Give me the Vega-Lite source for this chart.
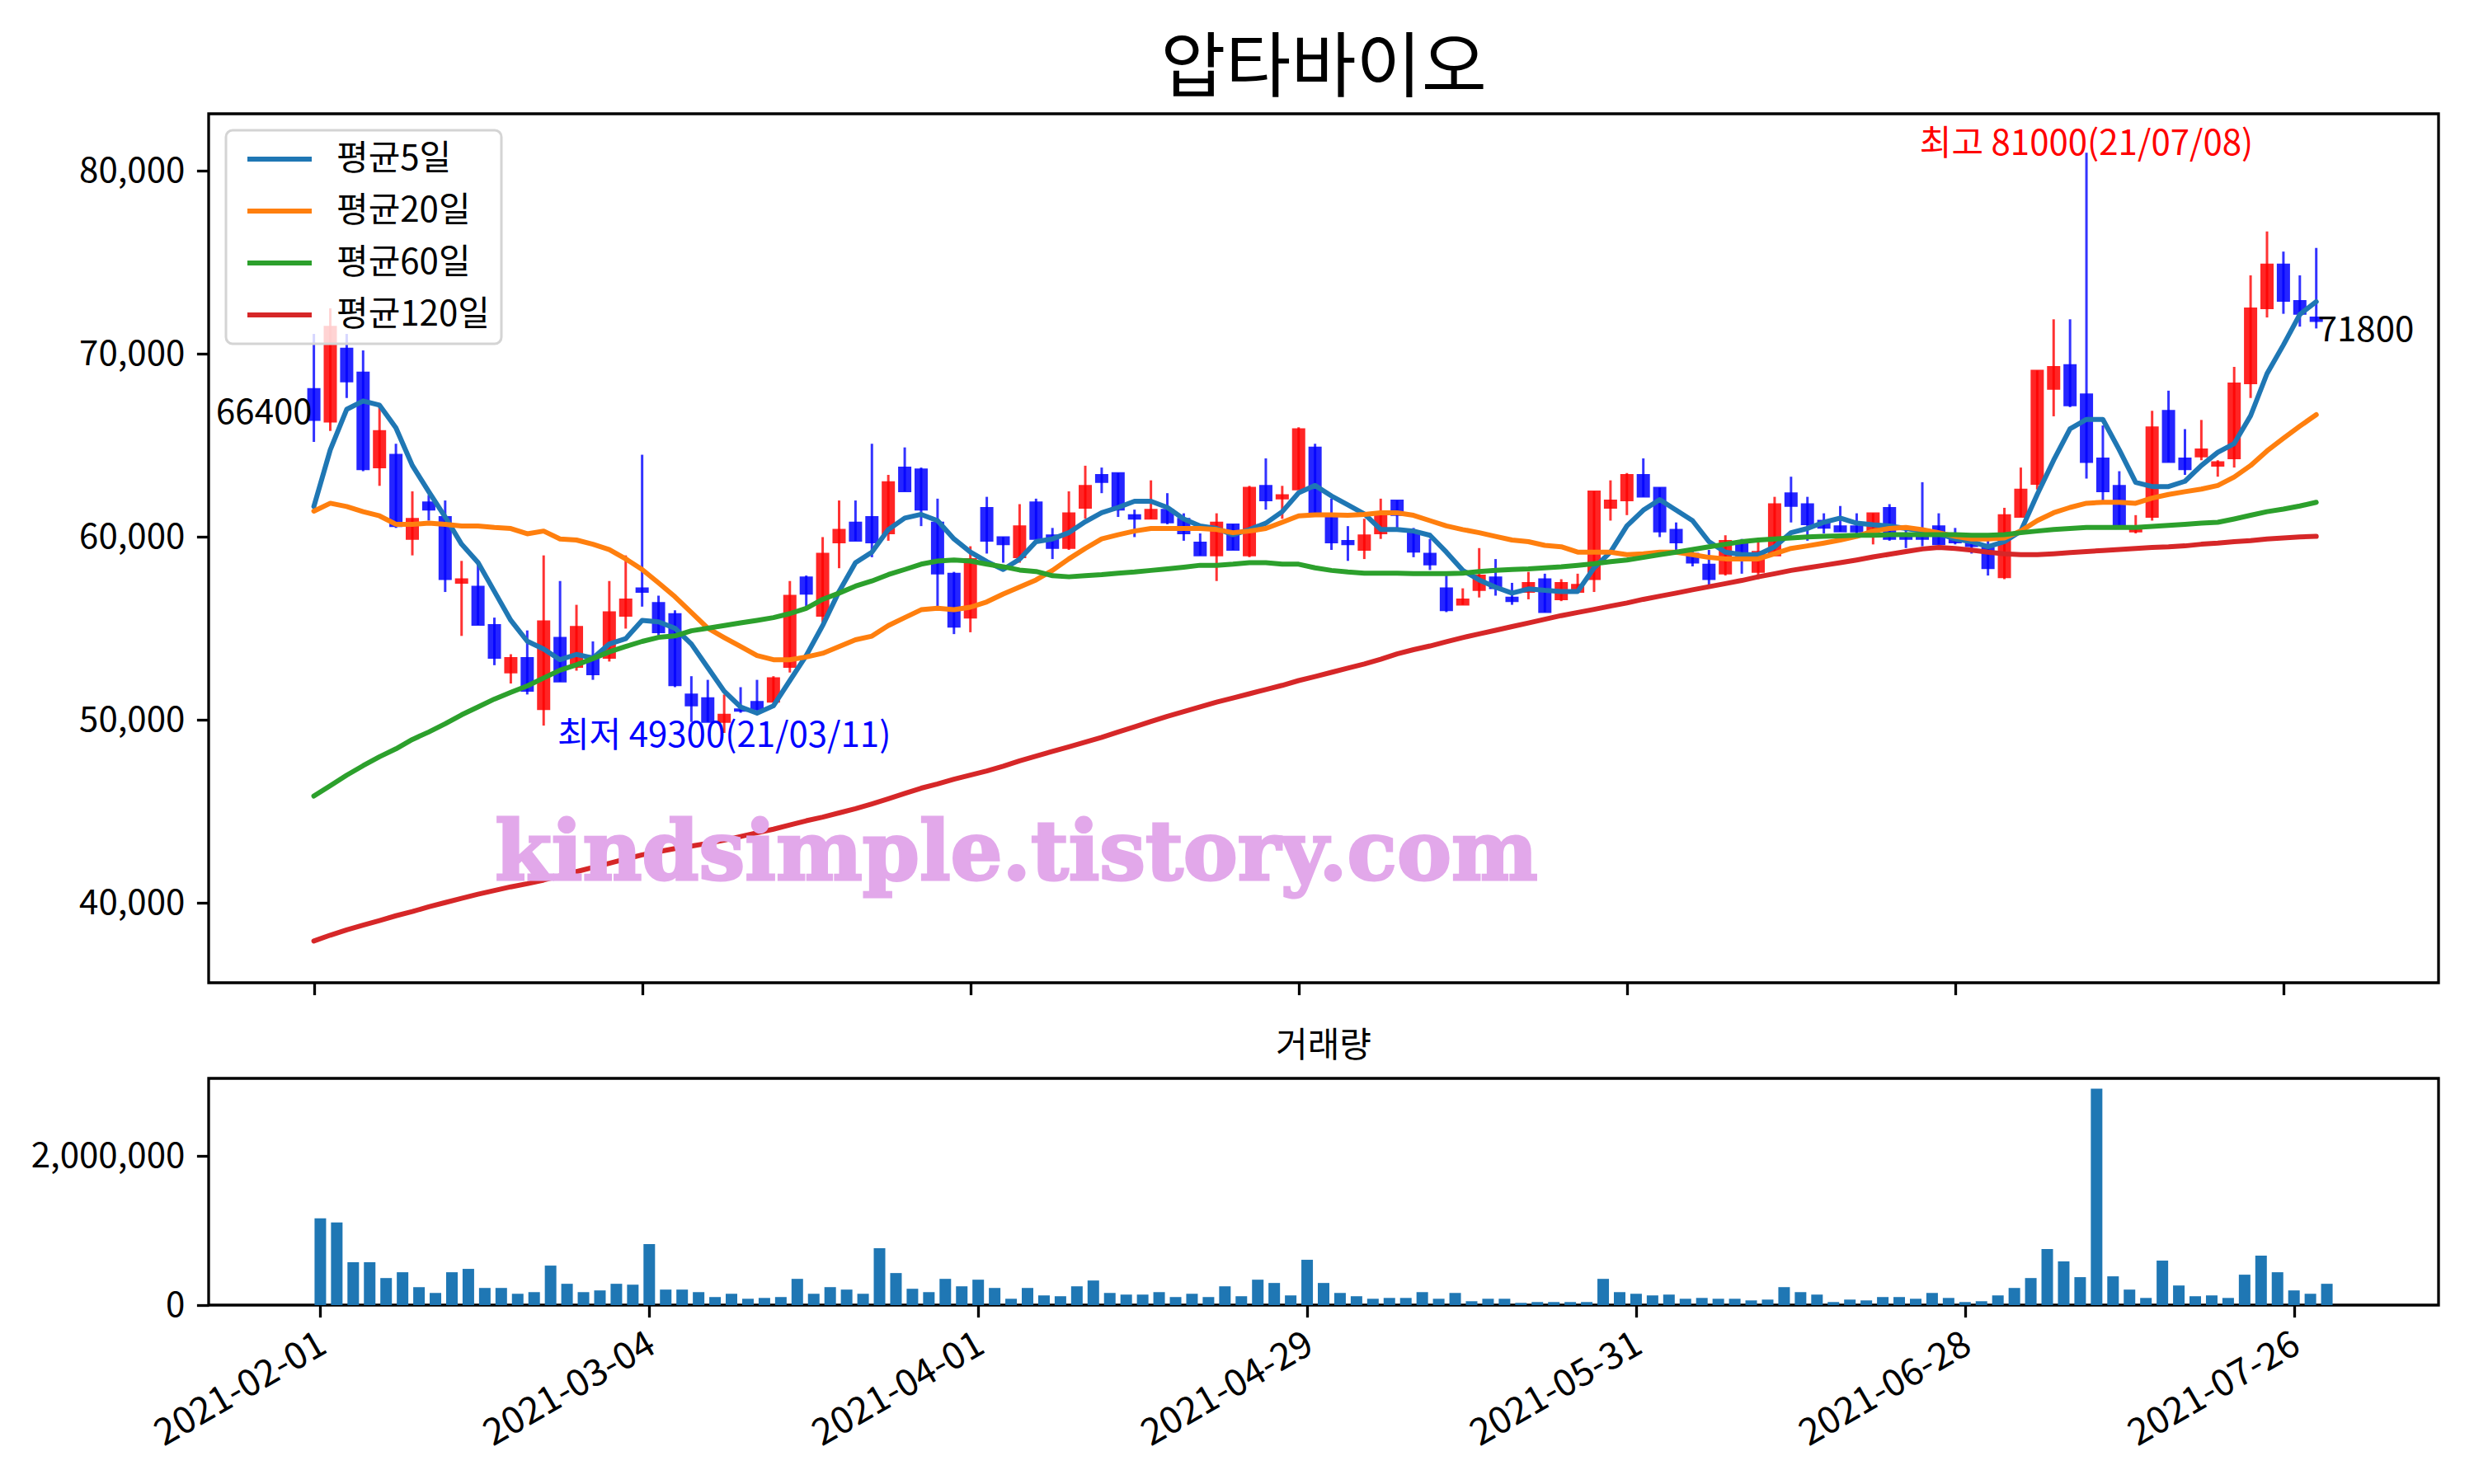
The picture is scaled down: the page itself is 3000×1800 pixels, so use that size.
{
  "$schema": "https://vega.github.io/schema/vega-lite/v6.json",
  "background": "white",
  "padding": {"left": 35, "top": 40, "right": 44, "bottom": 10},
  "config": {
    "font": "Noto Sans CJK KR",
    "view": {"stroke": "black", "strokeWidth": 3.3},
    "axis": {"labelFont": "Noto Sans CJK KR", "labelFontSize": 42, "labelColor": "black", "tickColor": "black", "tickWidth": 3.3, "tickSize": 14.6, "labelPadding": 14.6, "domain": false, "grid": false, "labelLimit": 500},
    "title": {"font": "Noto Sans CJK KR", "fontWeight": "normal", "color": "black"},
    "legend": {"strokeWidth": 3}
  },
  "resolve": {"scale": {"x": "independent", "y": "independent", "color": "independent"}, "legend": {"color": "independent"}},
  "spacing": 36,
  "datasets": {
    "ohlc": [
{"i":0,"date":"2021-02-01","open":68100,"high":71100,"low":65200,"close":66400,"volume":1164000,"ma5":61670,"ma20":61420,"ma60":45850,"ma120":37930},
{"i":1,"date":"2021-02-02","open":66300,"high":72500,"low":65800,"close":71500,"volume":1109000,"ma5":64770,"ma20":61850,"ma60":46420,"ma120":38250},
{"i":2,"date":"2021-02-03","open":70300,"high":71100,"low":67600,"close":68500,"volume":575000,"ma5":66980,"ma20":61670,"ma60":46990,"ma120":38540},
{"i":3,"date":"2021-02-04","open":69000,"high":70200,"low":63600,"close":63700,"volume":575000,"ma5":67440,"ma20":61390,"ma60":47510,"ma120":38800},
{"i":4,"date":"2021-02-05","open":63800,"high":67100,"low":62800,"close":65800,"volume":363000,"ma5":67210,"ma20":61160,"ma60":48000,"ma120":39050},
{"i":5,"date":"2021-02-08","open":64500,"high":65100,"low":60500,"close":60600,"volume":441000,"ma5":65970,"ma20":60700,"ma60":48430,"ma120":39310},
{"i":6,"date":"2021-02-09","open":59900,"high":62500,"low":59000,"close":61000,"volume":241000,"ma5":63910,"ma20":60700,"ma60":48940,"ma120":39540},
{"i":7,"date":"2021-02-10","open":61900,"high":62300,"low":60900,"close":61500,"volume":163000,"ma5":62480,"ma20":60760,"ma60":49350,"ma120":39800},
{"i":8,"date":"2021-02-15","open":61100,"high":62000,"low":57000,"close":57700,"volume":441000,"ma5":61100,"ma20":60700,"ma60":49800,"ma120":40030},
{"i":9,"date":"2021-02-16","open":57500,"high":58700,"low":54600,"close":57700,"volume":486000,"ma5":59610,"ma20":60610,"ma60":50290,"ma120":40260},
{"i":10,"date":"2021-02-17","open":57300,"high":58500,"low":55200,"close":55200,"volume":230000,"ma5":58610,"ma20":60610,"ma60":50720,"ma120":40490},
{"i":11,"date":"2021-02-18","open":55200,"high":55600,"low":53000,"close":53400,"volume":230000,"ma5":57030,"ma20":60530,"ma60":51150,"ma120":40690},
{"i":12,"date":"2021-02-19","open":52600,"high":53600,"low":52000,"close":53400,"volume":152000,"ma5":55450,"ma20":60470,"ma60":51520,"ma120":40890},
{"i":13,"date":"2021-02-22","open":53400,"high":54900,"low":51400,"close":51600,"volume":174000,"ma5":54310,"ma20":60180,"ma60":51870,"ma120":41060},
{"i":14,"date":"2021-02-23","open":50600,"high":59000,"low":49700,"close":55400,"volume":530000,"ma5":53880,"ma20":60330,"ma60":52300,"ma120":41260},
{"i":15,"date":"2021-02-24","open":54500,"high":57600,"low":52100,"close":52100,"volume":286000,"ma5":53300,"ma20":59900,"ma60":52730,"ma120":41490},
{"i":16,"date":"2021-02-25","open":52900,"high":56300,"low":52700,"close":55100,"volume":174000,"ma5":53590,"ma20":59840,"ma60":53020,"ma120":41720},
{"i":17,"date":"2021-02-26","open":53500,"high":54300,"low":52200,"close":52500,"volume":197000,"ma5":53390,"ma20":59610,"ma60":53360,"ma120":41950},
{"i":18,"date":"2021-03-02","open":53400,"high":57600,"low":53200,"close":55900,"volume":286000,"ma5":54160,"ma20":59320,"ma60":53730,"ma120":42180},
{"i":19,"date":"2021-03-03","open":55700,"high":59000,"low":55000,"close":56600,"volume":274000,"ma5":54450,"ma20":58810,"ma60":54020,"ma120":42410},
{"i":20,"date":"2021-03-04","open":57200,"high":64500,"low":56200,"close":57000,"volume":819000,"ma5":55450,"ma20":58230,"ma60":54300,"ma120":42640},
{"i":21,"date":"2021-03-05","open":56400,"high":56800,"low":54600,"close":54800,"volume":208000,"ma5":55370,"ma20":57500,"ma60":54520,"ma120":42810},
{"i":22,"date":"2021-03-08","open":55800,"high":56000,"low":51800,"close":51900,"volume":208000,"ma5":55020,"ma20":56740,"ma60":54600,"ma120":42980},
{"i":23,"date":"2021-03-09","open":51400,"high":52400,"low":49900,"close":50800,"volume":174000,"ma5":54160,"ma20":55880,"ma60":54880,"ma120":43120},
{"i":24,"date":"2021-03-10","open":51200,"high":52200,"low":49900,"close":49900,"volume":108000,"ma5":52870,"ma20":55020,"ma60":55020,"ma120":43270},
{"i":25,"date":"2021-03-11","open":49900,"high":51400,"low":49300,"close":50300,"volume":152000,"ma5":51580,"ma20":54510,"ma60":55170,"ma120":43440},
{"i":26,"date":"2021-03-12","open":50600,"high":51800,"low":50400,"close":50500,"volume":85000,"ma5":50720,"ma20":54020,"ma60":55310,"ma120":43640},
{"i":27,"date":"2021-03-15","open":51000,"high":52200,"low":50500,"close":50600,"volume":96000,"ma5":50380,"ma20":53530,"ma60":55450,"ma120":43840},
{"i":28,"date":"2021-03-16","open":51000,"high":52400,"low":51000,"close":52300,"volume":108000,"ma5":50780,"ma20":53300,"ma60":55600,"ma120":44040},
{"i":29,"date":"2021-03-17","open":52900,"high":57600,"low":52600,"close":56800,"volume":352000,"ma5":52160,"ma20":53300,"ma60":55820,"ma120":44270},
{"i":30,"date":"2021-03-18","open":57800,"high":57900,"low":56100,"close":56900,"volume":152000,"ma5":53530,"ma20":53450,"ma60":56110,"ma120":44500},
{"i":31,"date":"2021-03-19","open":55700,"high":60000,"low":55300,"close":59100,"volume":241000,"ma5":55170,"ma20":53650,"ma60":56600,"ma120":44700},
{"i":32,"date":"2021-03-22","open":59700,"high":62000,"low":58300,"close":60400,"volume":208000,"ma5":57030,"ma20":54020,"ma60":56940,"ma120":44930},
{"i":33,"date":"2021-03-23","open":60800,"high":62000,"low":59800,"close":59800,"volume":152000,"ma5":58600,"ma20":54390,"ma60":57320,"ma120":45160},
{"i":34,"date":"2021-03-24","open":61100,"high":65100,"low":58900,"close":59700,"volume":764000,"ma5":59180,"ma20":54590,"ma60":57600,"ma120":45420},
{"i":35,"date":"2021-03-25","open":60200,"high":63400,"low":59800,"close":63000,"volume":430000,"ma5":60410,"ma20":55170,"ma60":57950,"ma120":45700},
{"i":36,"date":"2021-03-26","open":63800,"high":64900,"low":62500,"close":62500,"volume":219000,"ma5":61040,"ma20":55600,"ma60":58230,"ma120":45990},
{"i":37,"date":"2021-03-29","open":63700,"high":63800,"low":60600,"close":61500,"volume":174000,"ma5":61240,"ma20":56030,"ma60":58520,"ma120":46280},
{"i":38,"date":"2021-03-30","open":60800,"high":62100,"low":56200,"close":58000,"volume":352000,"ma5":60900,"ma20":56110,"ma60":58690,"ma120":46510},
{"i":39,"date":"2021-03-31","open":58000,"high":58100,"low":54700,"close":55100,"volume":252000,"ma5":59900,"ma20":56030,"ma60":58750,"ma120":46770},
{"i":40,"date":"2021-04-01","open":55600,"high":59500,"low":54800,"close":58800,"volume":341000,"ma5":59180,"ma20":56170,"ma60":58690,"ma120":47000},
{"i":41,"date":"2021-04-02","open":61600,"high":62200,"low":59100,"close":59800,"volume":230000,"ma5":58660,"ma20":56460,"ma60":58520,"ma120":47220},
{"i":42,"date":"2021-04-05","open":60000,"high":60000,"low":58600,"close":59600,"volume":85000,"ma5":58230,"ma20":56890,"ma60":58380,"ma120":47480},
{"i":43,"date":"2021-04-06","open":58900,"high":61800,"low":58600,"close":60600,"volume":230000,"ma5":58790,"ma20":57270,"ma60":58200,"ma120":47770},
{"i":44,"date":"2021-04-07","open":61900,"high":62100,"low":59900,"close":59900,"volume":130000,"ma5":59750,"ma20":57660,"ma60":58120,"ma120":48030},
{"i":45,"date":"2021-04-08","open":60100,"high":60500,"low":58800,"close":59400,"volume":119000,"ma5":59900,"ma20":58180,"ma60":57890,"ma120":48290},
{"i":46,"date":"2021-04-09","open":59400,"high":62500,"low":59300,"close":61300,"volume":252000,"ma5":60240,"ma20":58810,"ma60":57830,"ma120":48540},
{"i":47,"date":"2021-04-12","open":61600,"high":63900,"low":61000,"close":62800,"volume":330000,"ma5":60840,"ma20":59380,"ma60":57890,"ma120":48800},
{"i":48,"date":"2021-04-13","open":63400,"high":63800,"low":62400,"close":63000,"volume":163000,"ma5":61330,"ma20":59900,"ma60":57950,"ma120":49060},
{"i":49,"date":"2021-04-14","open":63500,"high":63500,"low":61100,"close":61500,"volume":141000,"ma5":61620,"ma20":60130,"ma60":58030,"ma120":49350},
{"i":50,"date":"2021-04-15","open":61200,"high":61500,"low":60000,"close":61000,"volume":141000,"ma5":61960,"ma20":60330,"ma60":58090,"ma120":49630},
{"i":51,"date":"2021-04-16","open":61000,"high":63100,"low":61000,"close":61500,"volume":174000,"ma5":61960,"ma20":60470,"ma60":58180,"ma120":49920},
{"i":52,"date":"2021-04-19","open":61500,"high":62400,"low":60700,"close":60800,"volume":108000,"ma5":61620,"ma20":60470,"ma60":58260,"ma120":50210},
{"i":53,"date":"2021-04-20","open":61000,"high":61300,"low":59800,"close":60200,"volume":152000,"ma5":60990,"ma20":60470,"ma60":58350,"ma120":50460},
{"i":54,"date":"2021-04-21","open":59700,"high":60200,"low":59000,"close":59000,"volume":108000,"ma5":60610,"ma20":60470,"ma60":58460,"ma120":50720},
{"i":55,"date":"2021-04-22","open":59000,"high":61300,"low":57600,"close":60800,"volume":252000,"ma5":60470,"ma20":60410,"ma60":58460,"ma120":50980},
{"i":56,"date":"2021-04-23","open":60700,"high":60700,"low":59300,"close":59300,"volume":119000,"ma5":60130,"ma20":60240,"ma60":58520,"ma120":51210},
{"i":57,"date":"2021-04-26","open":59000,"high":62800,"low":58900,"close":62700,"volume":341000,"ma5":60410,"ma20":60330,"ma60":58600,"ma120":51440},
{"i":58,"date":"2021-04-27","open":62800,"high":64300,"low":61500,"close":62000,"volume":297000,"ma5":60760,"ma20":60470,"ma60":58600,"ma120":51670},
{"i":59,"date":"2021-04-28","open":62100,"high":62800,"low":61000,"close":62300,"volume":130000,"ma5":61390,"ma20":60810,"ma60":58520,"ma120":51900},
{"i":60,"date":"2021-04-29","open":62600,"high":66000,"low":62600,"close":65900,"volume":608000,"ma5":62420,"ma20":61160,"ma60":58520,"ma120":52160},
{"i":61,"date":"2021-04-30","open":64900,"high":65100,"low":61300,"close":61300,"volume":297000,"ma5":62820,"ma20":61210,"ma60":58320,"ma120":52380},
{"i":62,"date":"2021-05-03","open":61100,"high":62100,"low":59300,"close":59700,"volume":163000,"ma5":62250,"ma20":61210,"ma60":58180,"ma120":52610},
{"i":63,"date":"2021-05-04","open":59800,"high":60600,"low":58700,"close":59600,"volume":119000,"ma5":61760,"ma20":61190,"ma60":58090,"ma120":52840},
{"i":64,"date":"2021-05-06","open":59300,"high":61000,"low":58800,"close":60100,"volume":85000,"ma5":61270,"ma20":61240,"ma60":58030,"ma120":53070},
{"i":65,"date":"2021-05-07","open":60200,"high":62100,"low":59900,"close":61200,"volume":96000,"ma5":60420,"ma20":61330,"ma60":58030,"ma120":53330},
{"i":66,"date":"2021-05-10","open":62000,"high":62000,"low":60500,"close":61200,"volume":96000,"ma5":60410,"ma20":61330,"ma60":58030,"ma120":53620},
{"i":67,"date":"2021-05-11","open":60200,"high":60500,"low":58900,"close":59200,"volume":174000,"ma5":60330,"ma20":61190,"ma60":58000,"ma120":53850},
{"i":68,"date":"2021-05-12","open":59100,"high":59900,"low":58200,"close":58500,"volume":85000,"ma5":60100,"ma20":60900,"ma60":58000,"ma120":54050},
{"i":69,"date":"2021-05-13","open":57200,"high":57900,"low":55900,"close":56000,"volume":163000,"ma5":59180,"ma20":60610,"ma60":58000,"ma120":54280},
{"i":70,"date":"2021-05-14","open":56300,"high":57200,"low":56300,"close":56600,"volume":52000,"ma5":58180,"ma20":60410,"ma60":58030,"ma120":54510},
{"i":71,"date":"2021-05-17","open":57100,"high":59400,"low":56700,"close":57900,"volume":85000,"ma5":57660,"ma20":60240,"ma60":58120,"ma120":54710},
{"i":72,"date":"2021-05-18","open":57800,"high":58800,"low":56800,"close":57200,"volume":85000,"ma5":57260,"ma20":60040,"ma60":58180,"ma120":54910},
{"i":73,"date":"2021-05-20","open":56700,"high":57500,"low":56300,"close":56500,"volume":30000,"ma5":56940,"ma20":59840,"ma60":58230,"ma120":55110},
{"i":74,"date":"2021-05-21","open":57000,"high":58100,"low":56600,"close":57500,"volume":41000,"ma5":57170,"ma20":59750,"ma60":58260,"ma120":55310},
{"i":75,"date":"2021-05-24","open":57700,"high":58000,"low":55900,"close":55900,"volume":41000,"ma5":57090,"ma20":59550,"ma60":58320,"ma120":55510},
{"i":76,"date":"2021-05-25","open":56600,"high":57700,"low":56500,"close":57500,"volume":41000,"ma5":57030,"ma20":59470,"ma60":58380,"ma120":55710},
{"i":77,"date":"2021-05-26","open":57000,"high":58000,"low":57000,"close":57400,"volume":41000,"ma5":57030,"ma20":59180,"ma60":58460,"ma120":55880},
{"i":78,"date":"2021-05-27","open":57700,"high":62500,"low":57000,"close":62500,"volume":352000,"ma5":58320,"ma20":59180,"ma60":58550,"ma120":56050},
{"i":79,"date":"2021-05-28","open":61600,"high":63100,"low":60900,"close":62000,"volume":174000,"ma5":59180,"ma20":59180,"ma60":58660,"ma120":56230},
{"i":80,"date":"2021-05-31","open":62000,"high":63500,"low":61200,"close":63400,"volume":152000,"ma5":60610,"ma20":59040,"ma60":58750,"ma120":56400},
{"i":81,"date":"2021-06-01","open":63400,"high":64300,"low":62200,"close":62200,"volume":130000,"ma5":61470,"ma20":59090,"ma60":58890,"ma120":56600},
{"i":82,"date":"2021-06-02","open":62700,"high":62700,"low":60000,"close":60300,"volume":141000,"ma5":62050,"ma20":59180,"ma60":59040,"ma120":56770},
{"i":83,"date":"2021-06-03","open":60400,"high":60800,"low":59300,"close":59700,"volume":85000,"ma5":61470,"ma20":59180,"ma60":59180,"ma120":56940},
{"i":84,"date":"2021-06-04","open":59100,"high":59300,"low":58400,"close":58600,"volume":96000,"ma5":60900,"ma20":59040,"ma60":59320,"ma120":57120},
{"i":85,"date":"2021-06-07","open":58500,"high":59300,"low":57300,"close":57700,"volume":85000,"ma5":59750,"ma20":58890,"ma60":59470,"ma120":57290},
{"i":86,"date":"2021-06-08","open":58000,"high":60100,"low":57900,"close":59800,"volume":85000,"ma5":59180,"ma20":58810,"ma60":59610,"ma120":57460},
{"i":87,"date":"2021-06-09","open":59700,"high":59900,"low":58000,"close":59000,"volume":63000,"ma5":59040,"ma20":58810,"ma60":59750,"ma120":57630},
{"i":88,"date":"2021-06-10","open":58100,"high":59800,"low":57700,"close":59200,"volume":74000,"ma5":59040,"ma20":58810,"ma60":59840,"ma120":57830},
{"i":89,"date":"2021-06-11","open":59000,"high":62200,"low":59000,"close":61800,"volume":241000,"ma5":59470,"ma20":59090,"ma60":59900,"ma120":58000},
{"i":90,"date":"2021-06-14","open":62400,"high":63300,"low":60800,"close":61700,"volume":174000,"ma5":60240,"ma20":59380,"ma60":59950,"ma120":58180},
{"i":91,"date":"2021-06-15","open":61800,"high":62200,"low":59800,"close":60700,"volume":141000,"ma5":60470,"ma20":59520,"ma60":60010,"ma120":58320},
{"i":92,"date":"2021-06-16","open":60900,"high":61300,"low":60200,"close":60500,"volume":41000,"ma5":60810,"ma20":59670,"ma60":60040,"ma120":58460},
{"i":93,"date":"2021-06-17","open":60600,"high":61700,"low":60300,"close":60300,"volume":74000,"ma5":61040,"ma20":59840,"ma60":60070,"ma120":58600},
{"i":94,"date":"2021-06-18","open":60600,"high":61300,"low":60200,"close":60300,"volume":63000,"ma5":60760,"ma20":60040,"ma60":60100,"ma120":58750},
{"i":95,"date":"2021-06-21","open":60300,"high":61300,"low":59600,"close":61300,"volume":108000,"ma5":60670,"ma20":60330,"ma60":60100,"ma120":58920},
{"i":96,"date":"2021-06-22","open":61600,"high":61800,"low":59800,"close":59900,"volume":108000,"ma5":60610,"ma20":60470,"ma60":60130,"ma120":59060},
{"i":97,"date":"2021-06-23","open":60200,"high":60400,"low":59400,"close":59900,"volume":85000,"ma5":60470,"ma20":60530,"ma60":60130,"ma120":59210},
{"i":98,"date":"2021-06-24","open":60000,"high":63000,"low":59500,"close":59900,"volume":163000,"ma5":60330,"ma20":60410,"ma60":60130,"ma120":59350},
{"i":99,"date":"2021-06-25","open":60600,"high":61300,"low":59600,"close":59600,"volume":96000,"ma5":60180,"ma20":60240,"ma60":60130,"ma120":59440},
{"i":100,"date":"2021-06-28","open":60000,"high":60500,"low":59600,"close":59700,"volume":41000,"ma5":59900,"ma20":60040,"ma60":60130,"ma120":59380},
{"i":101,"date":"2021-06-29","open":59700,"high":60000,"low":59100,"close":59500,"volume":52000,"ma5":59750,"ma20":59900,"ma60":60100,"ma120":59290},
{"i":102,"date":"2021-06-30","open":59400,"high":59800,"low":57900,"close":58300,"volume":130000,"ma5":59470,"ma20":59900,"ma60":60100,"ma120":59180},
{"i":103,"date":"2021-07-01","open":57800,"high":61600,"low":57700,"close":61200,"volume":230000,"ma5":59750,"ma20":59950,"ma60":60130,"ma120":59090},
{"i":104,"date":"2021-07-02","open":61100,"high":63800,"low":61100,"close":62600,"volume":363000,"ma5":60330,"ma20":60330,"ma60":60240,"ma120":59040},
{"i":105,"date":"2021-07-05","open":62900,"high":69100,"low":62600,"close":69100,"volume":753000,"ma5":62330,"ma20":60900,"ma60":60330,"ma120":59040},
{"i":106,"date":"2021-07-06","open":68100,"high":71900,"low":66600,"close":69300,"volume":586000,"ma5":64200,"ma20":61330,"ma60":60410,"ma120":59090},
{"i":107,"date":"2021-07-07","open":69400,"high":71900,"low":67100,"close":67200,"volume":375000,"ma5":65920,"ma20":61620,"ma60":60470,"ma120":59150},
{"i":108,"date":"2021-07-08","open":67800,"high":81000,"low":63200,"close":64100,"volume":2903000,"ma5":66430,"ma20":61850,"ma60":60530,"ma120":59210},
{"i":109,"date":"2021-07-09","open":64300,"high":66100,"low":62000,"close":62500,"volume":386000,"ma5":66430,"ma20":61900,"ma60":60530,"ma120":59270},
{"i":110,"date":"2021-07-12","open":62800,"high":63600,"low":60600,"close":60700,"volume":208000,"ma5":64770,"ma20":61900,"ma60":60530,"ma120":59320},
{"i":111,"date":"2021-07-13","open":60300,"high":61200,"low":60200,"close":60500,"volume":96000,"ma5":62990,"ma20":61850,"ma60":60530,"ma120":59380},
{"i":112,"date":"2021-07-14","open":61100,"high":66900,"low":60900,"close":66000,"volume":597000,"ma5":62760,"ma20":62130,"ma60":60580,"ma120":59440},
{"i":113,"date":"2021-07-15","open":66900,"high":68000,"low":64100,"close":64100,"volume":263000,"ma5":62760,"ma20":62330,"ma60":60640,"ma120":59470},
{"i":114,"date":"2021-07-16","open":64300,"high":65900,"low":63400,"close":63700,"volume":119000,"ma5":63050,"ma20":62480,"ma60":60700,"ma120":59520},
{"i":115,"date":"2021-07-19","open":64400,"high":66400,"low":64200,"close":64800,"volume":130000,"ma5":63910,"ma20":62620,"ma60":60760,"ma120":59610},
{"i":116,"date":"2021-07-20","open":63900,"high":64200,"low":63300,"close":64100,"volume":96000,"ma5":64630,"ma20":62820,"ma60":60810,"ma120":59670},
{"i":117,"date":"2021-07-21","open":64300,"high":69300,"low":63800,"close":68400,"volume":408000,"ma5":65110,"ma20":63280,"ma60":60990,"ma120":59750},
{"i":118,"date":"2021-07-22","open":68400,"high":74300,"low":67600,"close":72500,"volume":664000,"ma5":66630,"ma20":63910,"ma60":61190,"ma120":59810},
{"i":119,"date":"2021-07-23","open":72500,"high":76700,"low":72000,"close":74900,"volume":441000,"ma5":68930,"ma20":64710,"ma60":61390,"ma120":59900},
{"i":120,"date":"2021-07-26","open":74900,"high":75600,"low":72200,"close":72900,"volume":197000,"ma5":70500,"ma20":65400,"ma60":61530,"ma120":59950},
{"i":121,"date":"2021-07-27","open":72900,"high":74300,"low":71500,"close":72200,"volume":152000,"ma5":72170,"ma20":66060,"ma60":61700,"ma120":60010},
{"i":122,"date":"2021-07-28","open":72000,"high":75800,"low":71400,"close":71800,"volume":286000,"ma5":72860,"ma20":66690,"ma60":61900,"ma120":60040}
    ]
  },
  "vconcat": [
    {
      "width": 2704,
      "height": 1054,
      "title": {"text": "압타바이오", "fontSize": 86, "anchor": "middle", "frame": "group", "offset": 9},
      "data": {"name": "ohlc"},
      "encoding": {
        "x": {"field": "i", "type": "quantitative", "title": null,
          "scale": {"domain": [-6.16, 129.2], "nice": false, "zero": false},
          "axis": {"values": [0, 20, 40, 60, 80, 100, 120], "labels": false, "ticks": true}}
      },
      "layer": [
        {
          "mark": {"type": "rule", "strokeWidth": 3, "opacity": 0.8},
          "encoding": {
            "y": {"field": "low", "type": "quantitative", "title": null,
              "scale": {"domain": [35650, 83130], "nice": false, "zero": false},
              "axis": {"values": [40000, 50000, 60000, 70000, 80000], "labelExpr": "format(datum.value, ',')"}},
            "y2": {"field": "high"},
            "color": {"condition": {"test": "datum.close >= datum.open", "value": "#ff0000"}, "value": "#0000ff"}
          }
        },
        {
          "mark": {"type": "bar", "size": 14, "opacity": 0.85, "strokeWidth": 2},
          "encoding": {
            "y": {"field": "open", "type": "quantitative", "title": null},
            "y2": {"field": "close"},
            "color": {"condition": {"test": "datum.close >= datum.open", "value": "#ff0000"}, "value": "#0000ff"},
            "stroke": {"condition": {"test": "datum.close >= datum.open", "value": "#ff0000"}, "value": "#0000ff"}
          }
        },
        {
          "transform": [{"fold": ["ma5", "ma20", "ma60", "ma120"], "as": ["ma", "value"]}],
          "mark": {"type": "line", "strokeWidth": 6, "strokeJoin": "round", "strokeCap": "round"},
          "encoding": {
            "y": {"field": "value", "type": "quantitative", "title": null},
            "color": {"field": "ma", "type": "nominal",
              "scale": {"domain": ["ma5", "ma20", "ma60", "ma120"], "range": ["#1f77b4", "#ff7f0e", "#2ca02c", "#d62728"]},
              "legend": {"title": null, "orient": "none", "legendX": 21, "legendY": 20, "direction": "vertical",
                "fillColor": "rgba(255,255,255,0.8)", "strokeColor": "#d4d4d4", "cornerRadius": 8, "padding": 14,
                "symbolType": "M-0.6,0H4.6", "symbolSize": 900, "symbolStrokeWidth": 6, "symbolOffset": 0,
                "labelFontSize": 42, "labelFont": "Noto Sans CJK KR", "labelColor": "black", "labelOffset": 78, "labelLimit": 500,
                "rowPadding": 21,
                "labelExpr": "datum.label == 'ma5' ? '평균5일' : datum.label == 'ma20' ? '평균20일' : datum.label == 'ma60' ? '평균60일' : '평균120일'"}}
          }
        },
        {
          "data": {"values": [{"i": 0, "price": 66400, "label": "66400"}]},
          "mark": {"type": "text", "align": "right", "baseline": "alphabetic", "dx": -2, "dy": 5, "fontSize": 42, "font": "Noto Sans CJK KR", "color": "black"},
          "encoding": {"y": {"field": "price", "type": "quantitative", "title": null}, "text": {"field": "label"}}
        },
        {
          "data": {"values": [{"i": 122, "price": 71800, "label": "71800"}]},
          "mark": {"type": "text", "align": "left", "baseline": "alphabetic", "dx": 2, "dy": 24, "fontSize": 42, "font": "Noto Sans CJK KR", "color": "black"},
          "encoding": {"y": {"field": "price", "type": "quantitative", "title": null}, "text": {"field": "label"}}
        },
        {
          "data": {"values": [{"i": 108, "price": 81000, "label": "최고 81000(21/07/08)"}]},
          "mark": {"type": "text", "align": "center", "baseline": "alphabetic", "dy": 3, "fontSize": 42, "font": "Noto Sans CJK KR", "color": "#ff0000"},
          "encoding": {"y": {"field": "price", "type": "quantitative", "title": null}, "text": {"field": "label"}}
        },
        {
          "data": {"values": [{"i": 25, "price": 49300, "label": "최저 49300(21/03/11)"}]},
          "mark": {"type": "text", "align": "center", "baseline": "alphabetic", "dy": 17, "fontSize": 42, "font": "Noto Sans CJK KR", "color": "#0000ff"},
          "encoding": {"y": {"field": "price", "type": "quantitative", "title": null}, "text": {"field": "label"}}
        },
        {
          "data": {"values": [{"i": 42.8, "price": 41270, "label": "kindsimple.tistory.com"}]},
          "mark": {"type": "text", "align": "center", "baseline": "alphabetic", "fontSize": 99, "font": "DejaVu Serif", "fontWeight": "bold", "color": "#e2a8ea", "stroke": "#e2a8ea", "strokeWidth": 3},
          "encoding": {"y": {"field": "price", "type": "quantitative", "title": null}, "text": {"field": "label"}}
        }
      ]
    },
    {
      "width": 2704,
      "height": 275,
      "title": {"text": "거래량", "fontSize": 42, "anchor": "middle", "frame": "group", "offset": 17},
      "data": {"name": "ohlc"},
      "mark": {"type": "bar", "size": 14, "color": "#1f77b4"},
      "encoding": {
        "x": {"field": "i", "type": "quantitative", "title": null,
          "scale": {"domain": [-6.54, 128.54], "nice": false, "zero": false},
          "axis": {"values": [0, 20, 40, 60, 80, 100, 120], "labelAngle": -30, "labelAlign": "right", "labelBaseline": "top",
            "labelFlush": false, "labelOverlap": false, "labelLimit": 500, "labelFontSize": 45, "labelOffset": -8, "labelPadding": 10,
            "labelExpr": "['2021-02-01','2021-03-04','2021-04-01','2021-04-29','2021-05-31','2021-06-28','2021-07-26'][round(datum.value/20)]"}},
        "y": {"field": "volume", "type": "quantitative", "title": null,
          "scale": {"domain": [0, 3042000], "nice": false, "zero": true},
          "axis": {"values": [0, 2000000], "labelExpr": "format(datum.value, ',')"}}
      }
    }
  ]
}
